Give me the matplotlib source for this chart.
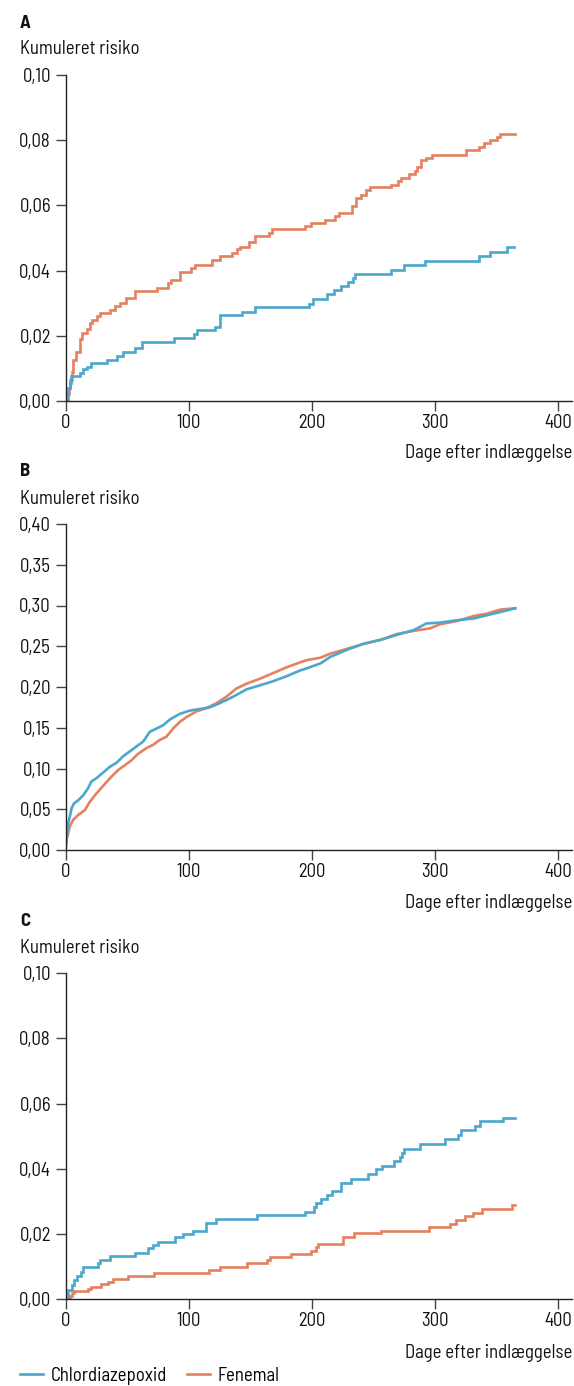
import matplotlib
matplotlib.use("Agg")
import matplotlib.pyplot as plt
from matplotlib.ticker import FuncFormatter
from matplotlib.lines import Line2D

plt.rcParams['font.family'] = ['Barlow Semi Condensed', 'Roboto Condensed', 'DejaVu Sans']

BLUE = '#4ba7cb'
ORANGE = '#e5815f'

series_names = ['Chlordiazepoxid', 'Fenemal']
panel_labels = ['A', 'B', 'C']
y_label = 'Kumuleret risiko'
x_label = 'Dage efter indlæggelse'
x_ticks = [0, 100, 200, 300, 400]

# Panel A
a_chl_days = [0, 2.2, 3.5, 4.3, 11.6, 13.8, 17.6, 20.3, 33.3, 41.4, 46.8, 56.3, 61.7, 88, 104.6,
              106.5, 121.3, 125.4, 143.5, 153.5, 198, 200.5, 212.5, 218, 224, 229, 233, 235,
              264.6, 274.7, 291.7, 335.5, 344.5, 358, 363.7]
a_chl_risk = [0, 0.004, 0.0054, 0.0077, 0.0085, 0.0097, 0.0105, 0.0118, 0.0127, 0.0138, 0.0151,
              0.0162, 0.0182, 0.0192, 0.0207, 0.0217, 0.0227, 0.0264, 0.0274, 0.0288, 0.0299,
              0.0313, 0.0327, 0.034, 0.0353, 0.0365, 0.0378, 0.0391, 0.0402, 0.0417, 0.0429,
              0.0444, 0.0458, 0.0473, 0.0473]
a_fen_days = [0, 1.5, 2.5, 3.5, 5, 6.2, 8.9, 11.6, 13, 17.6, 19.8, 21.9, 25.2, 28.4, 36, 40, 44,
              49.5, 56.3, 74, 83.5, 86, 92.6, 102, 104.8, 119, 125.5, 135, 139, 142, 149.2, 153.8,
              165, 167.3, 194.4, 199.2, 210.4, 218.4, 222.2, 232.7, 235.5, 240, 243.6, 247.3,
              263.8, 269.7, 272.4, 278.6, 283.3, 285.5, 288.7, 292.8, 297.6, 324.7, 335.5, 340,
              344.7, 350, 353, 364.6]
a_fen_risk = [0, 0.002, 0.004, 0.0065, 0.009, 0.0126, 0.015, 0.019, 0.021, 0.022, 0.024, 0.025,
              0.026, 0.027, 0.028, 0.029, 0.030, 0.0315, 0.0338, 0.0347, 0.0362, 0.0372, 0.0396,
              0.0408, 0.0417, 0.0432, 0.0444, 0.0453, 0.0465, 0.0473, 0.0489, 0.0505, 0.0515,
              0.0527, 0.0537, 0.0546, 0.0556, 0.0568, 0.0578, 0.0597, 0.0623, 0.0633, 0.0646,
              0.0656, 0.0664, 0.0674, 0.0684, 0.0697, 0.0707, 0.0717, 0.0738, 0.0746, 0.0756,
              0.0769, 0.078, 0.079, 0.0801, 0.081, 0.0819, 0.0819]

# Panel B
b_chl_days = [0, 0.8, 2.2, 3.5, 4.9, 6.8, 10.3, 14.3, 18.4, 21, 25, 30.5, 35.9, 41.4, 46.8, 52.2,
              57.6, 63, 68.4, 73.8, 79.2, 84.6, 92.7, 100.8, 108.9, 117, 125, 136, 146.8, 157.6,
              168.4, 179, 190, 196, 207, 215, 229, 242, 256, 269, 283, 293, 304, 318, 331, 342,
              353, 365]
b_chl_risk = [0, 0.012, 0.033, 0.041, 0.051, 0.057, 0.061, 0.067, 0.076, 0.084, 0.088, 0.095,
              0.102, 0.107, 0.115, 0.121, 0.127, 0.133, 0.145, 0.149, 0.153, 0.160, 0.167,
              0.171, 0.173, 0.175, 0.180, 0.188, 0.197, 0.202, 0.207, 0.213, 0.220, 0.223,
              0.229, 0.237, 0.246, 0.253, 0.258, 0.264, 0.270, 0.278, 0.279, 0.282, 0.284,
              0.288, 0.292, 0.2966]
b_fen_days = [0, 0.8, 3.5, 6.2, 10.3, 15.7, 19.7, 23.8, 27.8, 31.9, 37.3, 42.7, 48.1, 53.5, 58.9,
              65.7, 71.1, 76.5, 81.9, 87.3, 92.7, 98.1, 106.2, 114.3, 122.4, 130.5, 138.6,
              146.8, 157.6, 168.4, 179.2, 190, 196, 207, 215, 229, 242, 256, 269, 283, 296,
              304, 318, 331, 342, 353, 365]
b_fen_risk = [0, 0.012, 0.029, 0.037, 0.043, 0.049, 0.059, 0.067, 0.074, 0.081, 0.090, 0.098,
              0.104, 0.110, 0.118, 0.125, 0.129, 0.135, 0.139, 0.149, 0.157, 0.163, 0.170,
              0.174, 0.180, 0.188, 0.198, 0.204, 0.210, 0.217, 0.224, 0.230, 0.233, 0.236,
              0.241, 0.247, 0.253, 0.258, 0.265, 0.269, 0.272, 0.277, 0.281, 0.287, 0.290,
              0.295, 0.2966]

# Panel C
c_chl_days = [0, 2.2, 4.9, 6.8, 9.5, 12.2, 14.3, 26.5, 27.8, 36, 56.2, 67, 71, 75, 88.6, 95.4,
              103.5, 114, 122.4, 155.7, 194.3, 201.5, 203.6, 207.5, 212.3, 216.4, 224, 231.8,
              245.3, 252.4, 257, 266.4, 271.8, 273, 275, 287.5, 308.3, 318.5, 321, 332.7,
              336.2, 355, 364.6]
c_chl_risk = [0, 0.003, 0.0044, 0.0059, 0.007, 0.0085, 0.010, 0.0112, 0.012, 0.0133, 0.0143,
              0.0156, 0.0167, 0.0177, 0.019, 0.020, 0.021, 0.0233, 0.0245, 0.0257, 0.0269,
              0.0284, 0.0294, 0.0307, 0.032, 0.0333, 0.0357, 0.037, 0.0384, 0.0398, 0.041,
              0.0423, 0.0437, 0.0447, 0.0462, 0.0475, 0.049, 0.0503, 0.0518, 0.053, 0.0546,
              0.0557, 0.0557]
c_fen_days = [0, 3.5, 4.9, 6.8, 18.4, 21, 29, 34.6, 38.6, 50.8, 71.6, 116.5, 125.7, 147.3, 163.5,
              166.2, 183.4, 199.6, 203.1, 204.7, 225, 234, 255.8, 295.3, 312, 316.7, 324.2,
              330.5, 338.3, 362.7, 364.6]
c_fen_risk = [0, 0.001, 0.0018, 0.0024, 0.0031, 0.0039, 0.0047, 0.0054, 0.0061, 0.0072, 0.0082,
              0.009, 0.010, 0.011, 0.0121, 0.013, 0.014, 0.0149, 0.0161, 0.0169, 0.0192, 0.0202,
              0.021, 0.0222, 0.0232, 0.0243, 0.0255, 0.0265, 0.0277, 0.0288, 0.0288]

panels = [
    dict(label='A', chl=(a_chl_days, a_chl_risk), fen=(a_fen_days, a_fen_risk),
         ymax=0.10, yticks=[0, 0.02, 0.04, 0.06, 0.08, 0.10], steps=True),
    dict(label='B', chl=(b_chl_days, b_chl_risk), fen=(b_fen_days, b_fen_risk),
         ymax=0.40, yticks=[0, 0.05, 0.10, 0.15, 0.20, 0.25, 0.30, 0.35, 0.40], steps=False),
    dict(label='C', chl=(c_chl_days, c_chl_risk), fen=(c_fen_days, c_fen_risk),
         ymax=0.10, yticks=[0, 0.02, 0.04, 0.06, 0.08, 0.10], steps=True),
]

W, H = 574, 1386
fig = plt.figure(figsize=(W / 100, H / 100), dpi=100)

left_px = 65.5
xmax = 411
px_per_day = 1.232
right_px = left_px + xmax * px_per_day
layout = [
    dict(top=75, bottom=401, letter_y=24, ylab_y=49, xlab_y=453),
    dict(top=524, bottom=850, letter_y=471, ylab_y=499, xlab_y=903),
    dict(top=973, bottom=1299.3, letter_y=922, ylab_y=948, xlab_y=1353),
]

FS = 13.5
for p, lay in zip(panels, layout):
    ax = fig.add_axes([left_px / W, 1 - lay['bottom'] / H,
                       (right_px - left_px) / W, (lay['bottom'] - lay['top']) / H])
    ds = 'steps-post' if p['steps'] else 'default'
    ax.plot(p['fen'][0], p['fen'][1], color=ORANGE, lw=1.9, drawstyle=ds, solid_joinstyle='miter')
    ax.plot(p['chl'][0], p['chl'][1], color=BLUE, lw=1.9, drawstyle=ds, solid_joinstyle='miter')
    ax.set_xlim(0, xmax)
    ax.set_ylim(0, p['ymax'])
    ax.set_xticks(x_ticks)
    ax.set_yticks(p['yticks'])
    ax.yaxis.set_major_formatter(FuncFormatter(lambda v, pos: f"{v:.2f}".replace('.', ',')))
    for s in ['top', 'right']:
        ax.spines[s].set_visible(False)
    for s in ['left', 'bottom']:
        ax.spines[s].set_color('#222222')
        ax.spines[s].set_linewidth(1.0)
    ax.tick_params(axis='both', length=7.5, width=1.0, color='#444444', labelsize=FS,
                   labelcolor='#111111', pad=2)
    ax.tick_params(axis='y', pad=3)
    ax.patch.set_visible(False)
    fig.text(20 / W, 1 - lay['letter_y'] / H, p['label'], fontsize=FS, fontweight='bold',
             ha='left', va='center', color='#111111')
    fig.text(20 / W, 1 - lay['ylab_y'] / H, y_label, fontsize=FS, ha='left', va='center',
             color='#111111')
    fig.text(572 / W, 1 - lay['xlab_y'] / H, x_label, fontsize=FS, ha='right', va='center',
             color='#111111')

handles = [Line2D([], [], color=BLUE, lw=1.9), Line2D([], [], color=ORANGE, lw=1.9)]
fig.legend(handles, series_names, loc='center left', bbox_to_anchor=(20 / W, 1 - 1376 / H),
           ncol=2, frameon=False, fontsize=FS, handlelength=1.2, handletextpad=0.42,
           columnspacing=1.1, borderaxespad=0, borderpad=0)

fig.savefig('out.png', dpi=100)
